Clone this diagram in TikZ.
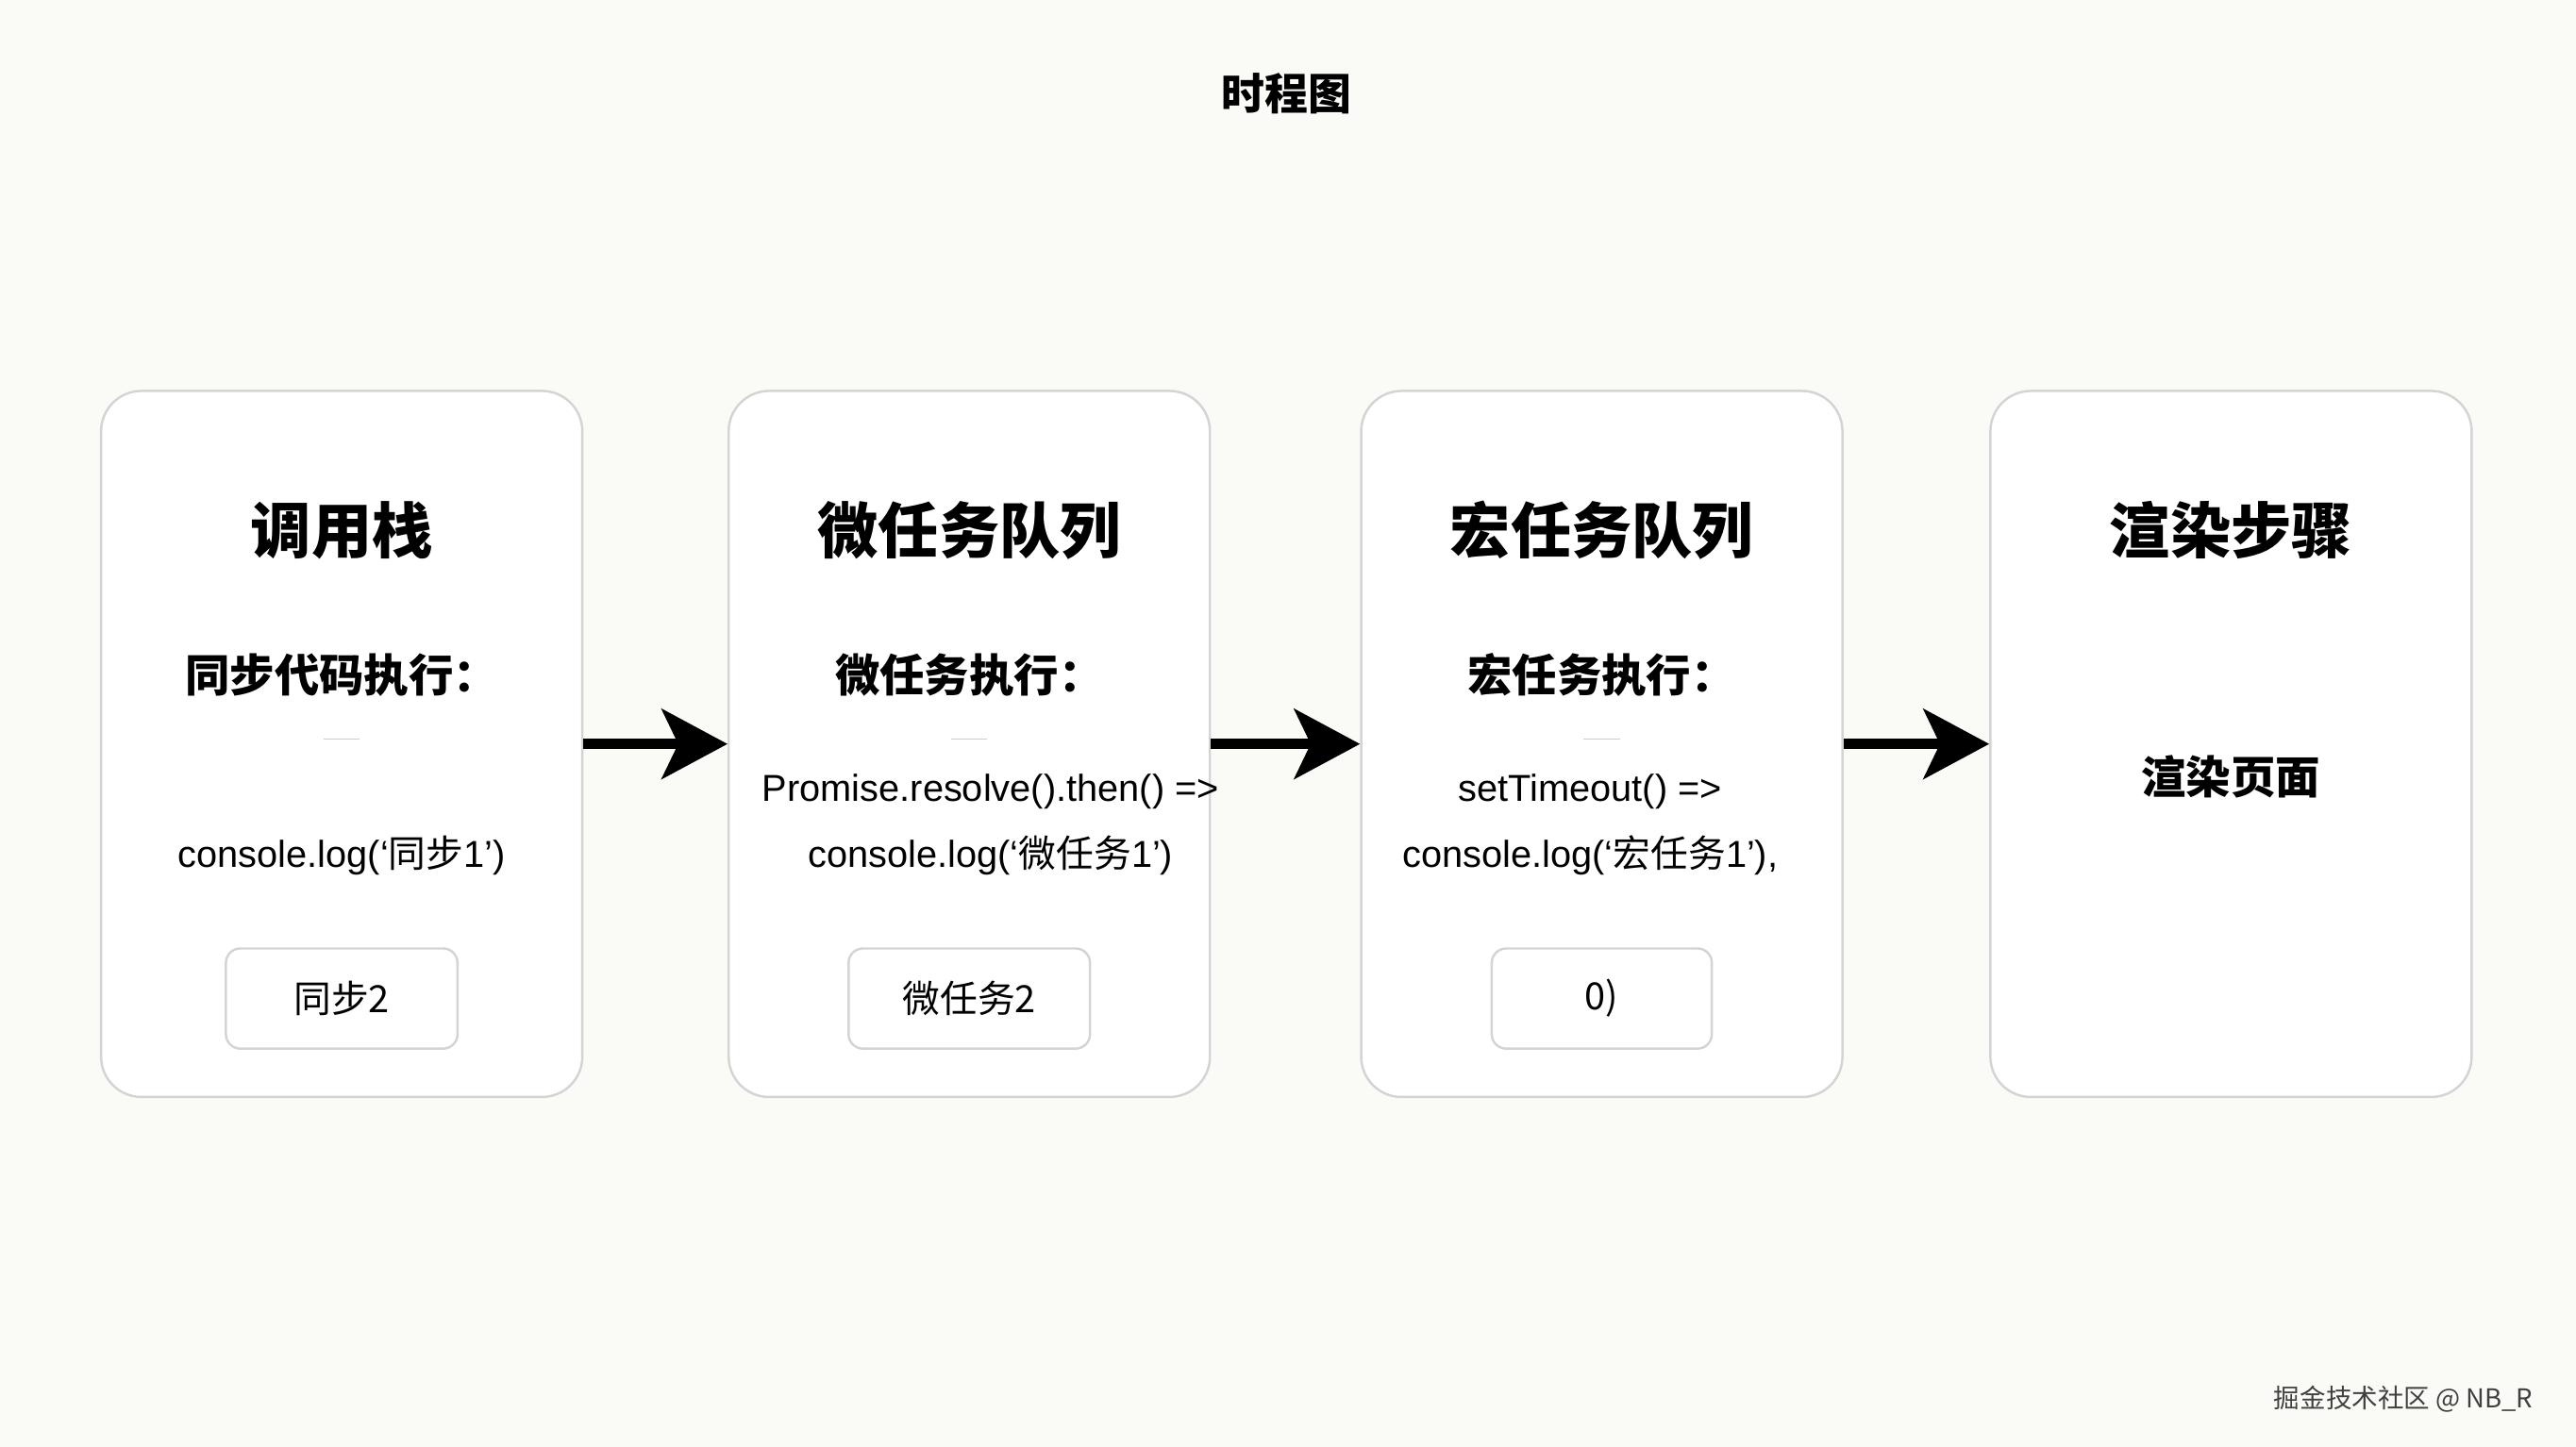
\documentclass[tikz,border=0pt]{standalone}
\usepackage{fontspec}
\setmainfont{Noto Sans CJK SC}
\newfontfamily\lat{Liberation Sans}
\usetikzlibrary{arrows.meta}
\definecolor{bgcol}{HTML}{FAFAF7}
\definecolor{edgecol}{HTML}{D4D4D4}
\tikzset{
  stage/.style={draw=edgecol,fill=white,rounded corners=14pt,line width=0.8pt,minimum width=5.86cm,minimum height=8.6cm},
  head/.style={font=\fontsize{21}{25}\selectfont\bfseries},
  sub/.style={font=\fontsize{15.5}{19}\selectfont\bfseries},
  code/.style={font=\fontsize{13}{16}\selectfont,align=center},
  chip/.style={draw=edgecol,fill=white,rounded corners=5pt,line width=0.8pt,minimum height=1.22cm,font=\fontsize{13}{16}\selectfont},
  flow/.style={line width=3.5pt,-{Stealth[length=0.8cm,width=0.85cm,inset=0.2cm]}}
}
\begin{document}
\begin{tikzpicture}[x=0.02cm,y=-0.02cm]
  % fond
  \fill[bgcol] (0,0) rectangle (1568,881);
  \useasboundingbox (0,0) rectangle (1568,881);

  \node[font=\fontsize{15}{18}\selectfont\bfseries] (titlu) at (783,57) {时程图};

  % cutiile
  \node[stage] (s1) at (208,453) {};
  \node[stage] (s2) at (590,453) {};
  \node[stage] (s3) at (975,453) {};
  \node[stage] (s4) at (1358,453) {};

  \node[head] (h1) at (208,323) {调用栈};
  \node[head] (h2) at (590,323) {微任务队列};
  \node[head] (h3) at (975,323) {宏任务队列};
  \node[head] (h4) at (1358,323) {渲染步骤};

  \node[sub] (t1) at (208,411) {同步代码执行：};
  \node[sub] (t2) at (590,411) {微任务执行：};
  \node[sub] (t3) at (975,411) {宏任务执行：};
  \node[sub] (t4) at (1358,473) {渲染页面};

  % liniuțe
  \foreach \x in {208,590,975}
    \draw[gray!40,line width=0.6pt] (\x-11,450) -- (\x+11,450);

  \node[code] (c1) at (208,521) {{\lat console.log(‘}同步{\lat 1’)}};
  \node[code] (c2) at (603,502) {{\lat Promise.resolve().then() =>}\\[7pt]{\lat console.log(‘}微任务{\lat 1’)}};
  \node[code] (c3) at (968,502) {{\lat setTimeout() =>}\\[7pt]{\lat console.log(‘}宏任务{\lat 1’),}};

  \node[chip,minimum width=2.82cm] (k1) at (208,608) {同步2};
  \node[chip,minimum width=2.94cm] (k2) at (590,608) {微任务2};
  \node[chip,minimum width=2.68cm] (k3) at (975,608) {0)};

  % săgeți
  \draw[flow] (s1.east) -- (s2.west);
  \draw[flow] (s2.east) -- (s3.west);
  \draw[flow] (s3.east) -- (s4.west);

  \node[font=\fontsize{9}{11}\selectfont,text=black!75,anchor=east] (semn) at (1548,852) {掘金技术社区 @ NB\_R};
\end{tikzpicture}
\end{document}
